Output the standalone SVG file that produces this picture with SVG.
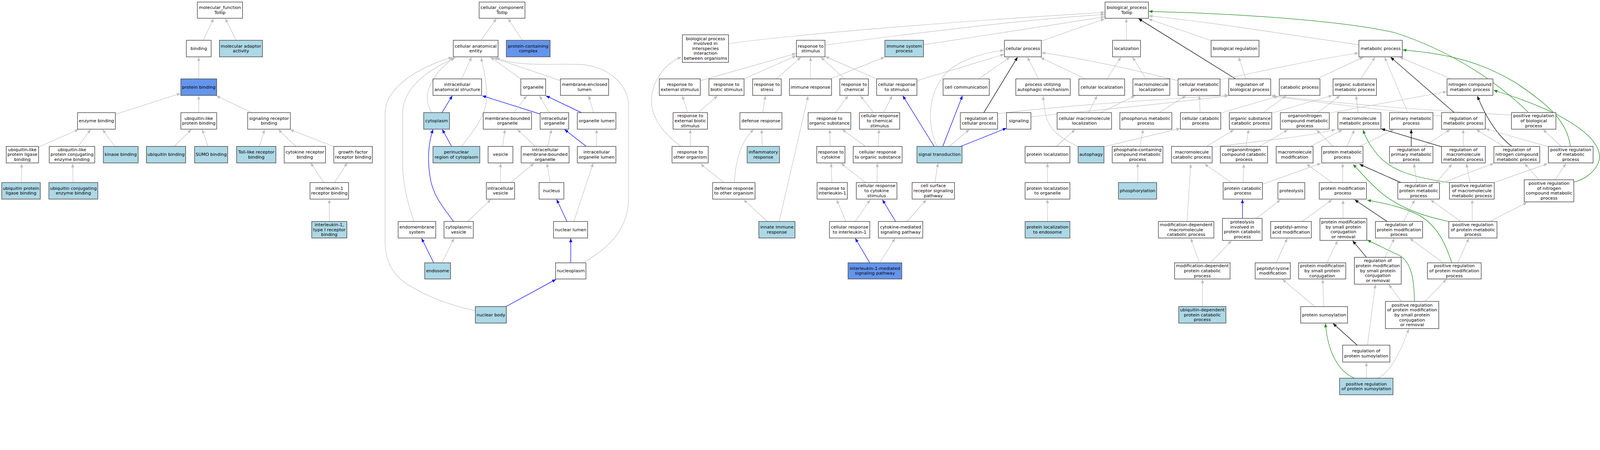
<svg xmlns="http://www.w3.org/2000/svg" width="4645" height="1152" viewBox="0 0 4645 1152" preserveAspectRatio="xMinYMin meet">
<style>
:root{width:100vw;height:100vh}
.e{fill:none;stroke:#bebebe;stroke-width:1.3;marker-end:url(#ag)}
.p{fill:none;stroke:#0000ff;stroke-width:1.4;marker-end:url(#ab)}
.r{fill:none;stroke:#000;stroke-width:1.4;marker-end:url(#ak)}
.g{fill:none;stroke:#228b22;stroke-width:1.4;marker-end:url(#agr)}
.n rect{stroke:#4d4d4d;stroke-width:1.7;fill:#fff}
.lb rect{fill:#add8e6}
.cb rect{fill:#6495ed}
text{font-family:"DejaVu Sans","Liberation Sans",sans-serif;font-size:12.8px;text-anchor:middle;fill:#000}
</style>
<defs>
<marker id="ag" markerUnits="userSpaceOnUse" markerWidth="11" markerHeight="9" viewBox="0 0 11 9" refX="11" refY="4.5" orient="auto"><path d="M0,0L11,4.5L0,9z" fill="#bebebe"/></marker>
<marker id="ab" markerUnits="userSpaceOnUse" markerWidth="11" markerHeight="9" viewBox="0 0 11 9" refX="11" refY="4.5" orient="auto"><path d="M0,0L11,4.5L0,9z" fill="#0000ff"/></marker>
<marker id="ak" markerUnits="userSpaceOnUse" markerWidth="11" markerHeight="9" viewBox="0 0 11 9" refX="11" refY="4.5" orient="auto"><path d="M0,0L11,4.5L0,9z" fill="#000"/></marker>
<marker id="agr" markerUnits="userSpaceOnUse" markerWidth="11" markerHeight="9" viewBox="0 0 11 9" refX="11" refY="4.5" orient="auto"><path d="M0,0L11,4.5L0,9z" fill="#228b22"/></marker>
</defs>
<rect width="4645" height="1152" fill="#fff"/>
<g id="edges">
<path class="e" d="M590,117L620,54"/>
<path class="e" d="M686,117L654,54"/>
<path class="e" d="M577,229L577,166"/>
<path class="e" d="M335,332L524,271"/>
<path class="e" d="M577,327L577,278"/>
<path class="e" d="M731,327L628,278"/>
<path class="e" d="M112,427L228,376"/>
<path class="e" d="M227,425L263,376"/>
<path class="e" d="M333,425L298,376"/>
<path class="e" d="M506,425L555,376"/>
<path class="e" d="M604,425L587,376"/>
<path class="e" d="M753,425L768,376"/>
<path class="e" d="M859,425L808,376"/>
<path class="e" d="M968,425L842,376"/>
<path class="e" d="M62,531L63,475"/>
<path class="e" d="M212,531L211,475"/>
<path class="e" d="M940,530L902,473"/>
<path class="e" d="M971,530L1008,473"/>
<path class="e" d="M956,643L956,579"/>
<path class="e" d="M1397,117L1441,54"/>
<path class="e" d="M1516,117L1475,54"/>
<path class="e" d="M1340,229L1369,166"/>
<path class="e" d="M1512,229L1424,166"/>
<path class="e" d="M1627,234L1433,168"/>
<path class="e" d="M1692,763C1760,725 1825,670 1825,573L1825,310C1825,240 1760,190 1680,187C1600,184 1500,195 1440,167"/>
<path class="e" d="M1254,327C1228,290 1235,230 1318,167"/>
<path class="e" d="M1340,425C1380,375 1413,330 1413,280C1413,230 1400,185 1397,167"/>
<path class="e" d="M1202,643C1180,580 1169,530 1169,470L1169,330C1169,250 1250,200 1322,167"/>
<path class="e" d="M1379,902C1300,885 1240,860 1190,830C1140,800 1118,760 1118,700L1118,330C1118,260 1200,200 1313,166"/>
<path class="p" d="M1283,327L1313,278"/>
<path class="p" d="M1568,331L1400,278"/>
<path class="e" d="M1492,327L1529,278"/>
<path class="e" d="M1595,327L1566,278"/>
<path class="p" d="M1688,327L1585,278"/>
<path class="e" d="M1723,327L1709,278"/>
<path class="p" d="M1311,425L1284,376"/>
<path class="e" d="M1459,425L1466,376"/>
<path class="e" d="M1554,425L1502,376"/>
<path class="e" d="M1590,425L1601,376"/>
<path class="p" d="M1702,425L1639,376"/>
<path class="e" d="M1732,425L1732,376"/>
<path class="e" d="M1453,530L1453,474"/>
<path class="e" d="M1483,530L1550,474"/>
<path class="e" d="M1597,530L1588,474"/>
<path class="e" d="M1358,643L1425,579"/>
<path class="p" d="M1317,643C1280,595 1254,560 1248,510C1240,460 1245,410 1257,376"/>
<path class="p" d="M1646,643L1616,579"/>
<path class="e" d="M1666,643L1722,474"/>
<path class="p" d="M1259,763L1224,692"/>
<path class="e" d="M1283,763L1318,692"/>
<path class="p" d="M1657,763L1657,692"/>
<path class="p" d="M1469,890L1614,811"/>
<path class="e" d="M2115,127C2300,100 2800,60 3207,36"/>
<path class="e" d="M2395,131C2700,90 3000,55 3207,42"/>
<path class="e" d="M2681,130L3207,49"/>
<path class="e" d="M3023,119L3207,55"/>
<path class="e" d="M3270,117L3270,54"/>
<path class="e" d="M3514,117L3334,55"/>
<path class="e" d="M3945,130C3700,95 3500,62 3335,46"/>
<path class="r" d="M3587,229L3305,54"/>
<path class="g" d="M4436,325C4380,270 4250,160 4050,95C3900,60 3600,40 3335,33"/>
<path class="e" d="M3617,229L3596,166"/>
<path class="e" d="M4388,334C4100,318 3880,300 3691,277"/>
<path class="e" d="M4185,337C4000,318 3850,300 3691,279"/>
<path class="e" d="M1996,325L1981,278"/>
<path class="e" d="M2029,325L2083,278"/>
<path class="e" d="M2214,327L2222,278"/>
<path class="e" d="M2426,327L2462,278"/>
<path class="e" d="M2534,325L2498,278"/>
<path class="e" d="M2566,325L2590,278"/>
<path class="r" d="M2856,327L2954,166"/>
<path class="e" d="M2896,330C3100,305 3350,290 3566,276"/>
<path class="e" d="M2993,339C3200,318 3400,300 3566,278"/>
<path class="e" d="M2756,425L2814,376"/>
<path class="p" d="M2712,425L2621,278"/>
<path class="p" d="M2737,425L2794,278"/>
<path class="p" d="M2789,425L2922,372"/>
<path class="e" d="M2720,425C2690,360 2690,260 2760,200C2800,170 2860,152 2915,146"/>
<path class="e" d="M2662,234L2915,158"/>
<path class="e" d="M2545,229L2396,164"/>
<path class="e" d="M2452,229L2383,166"/>
<path class="e" d="M2353,229L2353,166"/>
<path class="e" d="M2411,229L2568,166"/>
<path class="e" d="M2254,229L2325,166"/>
<path class="e" d="M2160,229L2311,162"/>
<path class="e" d="M2034,234L2311,155"/>
<path class="e" d="M2004,425L2004,376"/>
<path class="e" d="M1977,425C1930,390 1885,340 1892,279C1900,220 1940,180 1978,166"/>
<path class="e" d="M2102,530L2034,476"/>
<path class="e" d="M2132,530C2135,470 2150,410 2188,376"/>
<path class="e" d="M2213,425L2211,376"/>
<path class="e" d="M2228,643L2159,580"/>
<path class="e" d="M2262,643L2346,279"/>
<path class="e" d="M2410,425L2409,376"/>
<path class="e" d="M2513,425L2445,376"/>
<path class="e" d="M2549,425L2552,376"/>
<path class="e" d="M2415,530L2413,474"/>
<path class="e" d="M2513,530L2442,474"/>
<path class="e" d="M2546,530L2547,474"/>
<path class="e" d="M2714,530L2723,474"/>
<path class="e" d="M2456,643L2429,580"/>
<path class="e" d="M2483,643L2526,580"/>
<path class="p" d="M2600,643L2562,580"/>
<path class="e" d="M2633,643L2689,580"/>
<path class="p" d="M2525,763L2483,692"/>
<path class="e" d="M2554,763L2598,692"/>
<path class="e" d="M3015,229L2983,166"/>
<path class="e" d="M3130,426C3080,400 3045,380 3035,330C3030,300 3029,290 3029,279"/>
<path class="e" d="M2841,229L2932,166"/>
<path class="e" d="M3151,229L3021,167"/>
<path class="e" d="M3420,234C3300,205 3150,170 3024,153"/>
<path class="e" d="M3542,231C3650,210 3800,175 3944,154"/>
<path class="e" d="M3067,425L3121,376"/>
<path class="e" d="M3041,530L3041,474"/>
<path class="e" d="M3041,643L3041,579"/>
<path class="e" d="M3160,327L3185,278"/>
<path class="e" d="M3195,327L3295,278"/>
<path class="e" d="M3327,229L3288,166"/>
<path class="e" d="M3214,229L3254,166"/>
<path class="e" d="M3205,426L3426,373"/>
<path class="e" d="M3365,327L3443,278"/>
<path class="e" d="M3484,327L3482,278"/>
<path class="e" d="M3545,328L3711,279"/>
<path class="e" d="M3667,327L3734,278"/>
<path class="e" d="M3693,328L3868,277"/>
<path class="e" d="M3309,425L3319,376"/>
<path class="e" d="M3303,530L3303,474"/>
<path class="e" d="M3503,425L3582,377"/>
<path class="e" d="M3519,427C3700,405 3800,395 3877,376"/>
<path class="e" d="M3617,425L3625,376"/>
<path class="e" d="M3657,425L3738,377"/>
<path class="e" d="M3575,530L3497,476"/>
<path class="e" d="M3609,530L3611,476"/>
<path class="e" d="M3665,535L3835,474"/>
<path class="p" d="M3607,634L3607,579"/>
<path class="e" d="M3648,634L3717,580"/>
<path class="e" d="M3446,643L3457,476"/>
<path class="e" d="M3482,763L3457,692"/>
<path class="e" d="M3514,763L3575,699"/>
<path class="e" d="M3491,890L3491,811"/>
<path class="e" d="M3705,763L3737,692"/>
<path class="e" d="M3780,643L3867,580"/>
<path class="e" d="M3867,530L3793,476"/>
<path class="e" d="M3898,530L3898,474"/>
<path class="e" d="M3805,425L3897,377"/>
<path class="e" d="M3910,425L3932,377"/>
<path class="e" d="M3870,425L3822,377"/>
<path class="e" d="M3947,425L4047,376"/>
<path class="e" d="M3943,327L3937,278"/>
<path class="e" d="M4087,327L4020,166"/>
<path class="e" d="M3825,327L3890,278"/>
<path class="e" d="M3860,328L4200,266"/>
<path class="e" d="M3823,229L3958,166"/>
<path class="e" d="M3950,229L3992,166"/>
<path class="e" d="M4213,229L4063,166"/>
<path class="r" d="M4222,327L4037,166"/>
<path class="r" d="M4097,425L4097,376"/>
<path class="e" d="M4133,425L4210,376"/>
<path class="e" d="M4248,425L4248,376"/>
<path class="r" d="M4185,426L4010,374"/>
<path class="e" d="M4365,425L4286,376"/>
<path class="r" d="M4389,425Q4330,380 4289,279"/>
<path class="e" d="M4495,426L4313,374"/>
<path class="e" d="M4532,425L4480,376"/>
<path class="g" d="M4559,425C4550,350 4490,300 4400,240C4300,180 4200,155 4072,145"/>
<path class="e" d="M4468,522L4426,475"/>
<path class="e" d="M4515,522L4546,475"/>
<path class="g" d="M4569,529C4615,517 4648,480 4643,448C4636,400 4560,330 4336,262"/>
<path class="e" d="M4268,530L4257,475"/>
<path class="e" d="M4338,530L4493,475"/>
<path class="g" d="M4208,530C4100,515 4040,495 4000,450C3975,420 3965,400 3957,377"/>
<path class="e" d="M4274,643L4274,580"/>
<path class="e" d="M4325,643L4433,588"/>
<path class="e" d="M4241,643L4153,580"/>
<path class="g" d="M4206,643C4120,625 4060,600 4010,560C3975,530 3950,500 3928,477"/>
<path class="r" d="M4067,530L3947,477"/>
<path class="e" d="M4113,530L4105,475"/>
<path class="e" d="M4170,530L4215,476"/>
<path class="e" d="M4175,535L4337,474"/>
<path class="e" d="M4075,643L4107,580"/>
<path class="r" d="M4027,643L3933,580"/>
<path class="e" d="M4190,763L4093,692"/>
<path class="e" d="M4232,763L4264,692"/>
<path class="g" d="M4215,763C4200,720 4180,660 4120,625C4070,600 4020,590 3969,581"/>
<path class="e" d="M4068,875L4032,826"/>
<path class="e" d="M4137,875L4199,811"/>
<path class="g" d="M4106,875C4106,820 4100,760 4060,740C4030,728 4000,710 3969,697"/>
<path class="r" d="M3967,747L3927,699"/>
<path class="e" d="M4021,747L4048,692"/>
<path class="e" d="M3899,634L3899,581"/>
<path class="e" d="M3852,763L3883,699"/>
<path class="e" d="M3843,890L3840,811"/>
<path class="e" d="M3817,890L3723,811"/>
<path class="r" d="M3940,1002L3870,939"/>
<path class="e" d="M3970,1002L3993,826"/>
<path class="e" d="M3967,1098L3967,1052"/>
<path class="g" d="M3932,1098C3890,1080 3855,1030 3848,939"/>
<path class="e" d="M4000,1098C4040,1080 4070,1010 4090,955"/>
</g>
<g id="mf"><g id="n_mf" class="n"><rect x="573" y="6" width="131" height="47"/><text><tspan x="638.5" y="26.4">molecular_function</tspan><tspan x="638.5" y="40.7">Tollip</tspan></text></g>
<g id="n_binding" class="n"><rect x="541" y="117" width="72" height="48"/><text><tspan x="577" y="145">binding</tspan></text></g>
<g id="n_mol_adaptor" class="n lb"><rect x="637" y="117" width="125" height="48"/><text><tspan x="699.5" y="137.9">molecular adaptor</tspan><tspan x="699.5" y="152.2">activity</tspan></text></g>
<g id="n_protein_binding" class="n cb"><rect x="525" y="229" width="104" height="48"/><text><tspan x="577" y="257">protein binding</tspan></text></g>
<g id="n_enzyme_binding" class="n"><rect x="225" y="327" width="110" height="48"/><text><tspan x="280" y="355">enzyme binding</tspan></text></g>
<g id="n_ubl_binding" class="n"><rect x="525" y="327" width="104" height="48"/><text><tspan x="577" y="347.9">ubiquitin-like</tspan><tspan x="577" y="362.2">protein binding</tspan></text></g>
<g id="n_srb" class="n"><rect x="719" y="327" width="124" height="48"/><text><tspan x="781" y="347.9">signaling receptor</tspan><tspan x="781" y="362.2">binding</tspan></text></g>
<g id="n_ubl_ligase" class="n"><rect x="18" y="425" width="94" height="48"/><text><tspan x="65" y="438.7">ubiquitin-like</tspan><tspan x="65" y="453">protein ligase</tspan><tspan x="65" y="467.3">binding</tspan></text></g>
<g id="n_ubl_conj" class="n"><rect x="143" y="425" width="132" height="48"/><text><tspan x="209" y="438.7">ubiquitin-like</tspan><tspan x="209" y="453">protein conjugating</tspan><tspan x="209" y="467.3">enzyme binding</tspan></text></g>
<g id="n_kinase" class="n lb"><rect x="300" y="425" width="101" height="48"/><text><tspan x="350.5" y="453">kinase binding</tspan></text></g>
<g id="n_ubq_binding" class="n lb"><rect x="425" y="425" width="114" height="48"/><text><tspan x="482" y="453">ubiquitin binding</tspan></text></g>
<g id="n_sumo" class="n lb"><rect x="565" y="425" width="96" height="48"/><text><tspan x="613" y="453">SUMO binding</tspan></text></g>
<g id="n_tlr" class="n lb"><rect x="687" y="425" width="114" height="48"/><text><tspan x="744" y="445.9">Toll-like receptor</tspan><tspan x="744" y="460.2">binding</tspan></text></g>
<g id="n_crb" class="n"><rect x="825" y="425" width="120" height="48"/><text><tspan x="885" y="445.9">cytokine receptor</tspan><tspan x="885" y="460.2">binding</tspan></text></g>
<g id="n_gfrb" class="n"><rect x="969" y="425" width="112" height="48"/><text><tspan x="1025" y="445.9">growth factor</tspan><tspan x="1025" y="460.2">receptor binding</tspan></text></g>
<g id="n_il1rb" class="n"><rect x="900" y="530" width="112" height="48"/><text><tspan x="956" y="550.9">interleukin-1</tspan><tspan x="956" y="565.2">receptor binding</tspan></text></g>
<g id="n_il1r1b" class="n lb"><rect x="905" y="643" width="102" height="48"/><text><tspan x="956" y="656.7">interleukin-1,</tspan><tspan x="956" y="671">type I receptor</tspan><tspan x="956" y="685.3">binding</tspan></text></g>
<g id="n_upl" class="n lb"><rect x="5" y="530" width="112" height="48"/><text><tspan x="61" y="550.9">ubiquitin protein</tspan><tspan x="61" y="565.2">ligase binding</tspan></text></g>
<g id="n_uce" class="n lb"><rect x="142" y="530" width="142" height="48"/><text><tspan x="213" y="550.9">ubiquitin conjugating</tspan><tspan x="213" y="565.2">enzyme binding</tspan></text></g>
</g>
<g id="cc"><g id="n_cc" class="n"><rect x="1391" y="6" width="133" height="47"/><text><tspan x="1457.5" y="26.4">cellular_component</tspan><tspan x="1457.5" y="40.7">Tollip</tspan></text></g>
<g id="n_cae" class="n"><rect x="1316" y="117" width="130" height="48"/><text><tspan x="1381" y="137.9">cellular anatomical</tspan><tspan x="1381" y="152.2">entity</tspan></text></g>
<g id="n_pcc" class="n cb"><rect x="1470" y="117" width="127" height="48"/><text><tspan x="1533.5" y="137.9">protein-containing</tspan><tspan x="1533.5" y="152.2">complex</tspan></text></g>
<g id="n_ias" class="n"><rect x="1257" y="229" width="141" height="48"/><text><tspan x="1327.5" y="249.9">intracellular</tspan><tspan x="1327.5" y="264.2">anatomical structure</tspan></text></g>
<g id="n_organelle" class="n"><rect x="1512" y="229" width="72" height="48"/><text><tspan x="1548" y="257">organelle</tspan></text></g>
<g id="n_mel" class="n"><rect x="1627" y="229" width="140" height="48"/><text><tspan x="1697" y="249.9">membrane-enclosed</tspan><tspan x="1697" y="264.2">lumen</tspan></text></g>
<g id="n_cytoplasm" class="n lb"><rect x="1230" y="327" width="75" height="48"/><text><tspan x="1267.5" y="355">cytoplasm</tspan></text></g>
<g id="n_mbo" class="n"><rect x="1403" y="327" width="140" height="48"/><text><tspan x="1473" y="347.9">membrane-bounded</tspan><tspan x="1473" y="362.2">organelle</tspan></text></g>
<g id="n_io" class="n"><rect x="1568" y="327" width="83" height="48"/><text><tspan x="1609.5" y="347.9">intracellular</tspan><tspan x="1609.5" y="362.2">organelle</tspan></text></g>
<g id="n_ol" class="n"><rect x="1676" y="327" width="112" height="48"/><text><tspan x="1732" y="355">organelle lumen</tspan></text></g>
<g id="n_prc" class="n lb"><rect x="1257" y="425" width="136" height="48"/><text><tspan x="1325" y="445.9">perinuclear</tspan><tspan x="1325" y="460.2">region of cytoplasm</tspan></text></g>
<g id="n_vesicle" class="n"><rect x="1417" y="425" width="72" height="48"/><text><tspan x="1453" y="453">vesicle</tspan></text></g>
<g id="n_imbo" class="n"><rect x="1513" y="425" width="139" height="48"/><text><tspan x="1582.5" y="438.7">intracellular</tspan><tspan x="1582.5" y="453">membrane-bounded</tspan><tspan x="1582.5" y="467.3">organelle</tspan></text></g>
<g id="n_iol" class="n"><rect x="1676" y="425" width="112" height="48"/><text><tspan x="1732" y="445.9">intracellular</tspan><tspan x="1732" y="460.2">organelle lumen</tspan></text></g>
<g id="n_iv" class="n"><rect x="1412" y="530" width="82" height="48"/><text><tspan x="1453" y="550.9">intracellular</tspan><tspan x="1453" y="565.2">vesicle</tspan></text></g>
<g id="n_nucleus" class="n"><rect x="1565" y="530" width="72" height="48"/><text><tspan x="1601" y="558">nucleus</tspan></text></g>
<g id="n_ems" class="n"><rect x="1156" y="643" width="109" height="48"/><text><tspan x="1210.5" y="663.9">endomembrane</tspan><tspan x="1210.5" y="678.2">system</tspan></text></g>
<g id="n_cv" class="n"><rect x="1289" y="643" width="85" height="48"/><text><tspan x="1331.5" y="663.9">cytoplasmic</tspan><tspan x="1331.5" y="678.2">vesicle</tspan></text></g>
<g id="n_nl" class="n"><rect x="1607" y="643" width="99" height="48"/><text><tspan x="1656.5" y="671">nuclear lumen</tspan></text></g>
<g id="n_endosome" class="n lb"><rect x="1233" y="763" width="75" height="47"/><text><tspan x="1270.5" y="790.5">endosome</tspan></text></g>
<g id="n_nucleoplasm" class="n"><rect x="1613" y="763" width="88" height="47"/><text><tspan x="1657" y="790.5">nucleoplasm</tspan></text></g>
<g id="n_nb" class="n lb"><rect x="1380" y="890" width="90" height="48"/><text><tspan x="1425" y="918">nuclear body</tspan></text></g>
</g>
<g id="bpnodes">
<g id="n_bp" class="n"><rect x="3208" y="6" width="126" height="47"/><text><tspan x="3271" y="26.4">biological_process</tspan><tspan x="3271" y="40.7">Tollip</tspan></text></g>
<g id="n_bpii" class="n"><rect x="1981" y="101" width="134" height="80"/><text><tspan x="2048" y="116.4">biological process</tspan><tspan x="2048" y="130.7">involved in</tspan><tspan x="2048" y="145">interspecies</tspan><tspan x="2048" y="159.3">interaction</tspan><tspan x="2048" y="173.6">between organisms</tspan></text></g>
<g id="n_rs" class="n"><rect x="2312" y="117" width="83" height="48"/><text><tspan x="2353.5" y="137.9">response to</tspan><tspan x="2353.5" y="152.2">stimulus</tspan></text></g>
<g id="n_isp" class="n lb"><rect x="2569" y="117" width="112" height="48"/><text><tspan x="2625" y="137.9">immune system</tspan><tspan x="2625" y="152.2">process</tspan></text></g>
<g id="n_cp" class="n"><rect x="2916" y="117" width="107" height="48"/><text><tspan x="2969.5" y="145">cellular process</tspan></text></g>
<g id="n_loc" class="n"><rect x="3230" y="117" width="81" height="48"/><text><tspan x="3270.5" y="145">localization</tspan></text></g>
<g id="n_breg" class="n"><rect x="3516" y="117" width="139" height="48"/><text><tspan x="3585.5" y="145">biological regulation</tspan></text></g>
<g id="n_mp" class="n"><rect x="3945" y="117" width="126" height="48"/><text><tspan x="4008" y="145">metabolic process</tspan></text></g>
<g id="n_res" class="n"><rect x="1914" y="229" width="119" height="48"/><text><tspan x="1973.5" y="249.9">response to</tspan><tspan x="1973.5" y="264.2">external stimulus</tspan></text></g>
<g id="n_rbs" class="n"><rect x="2058" y="229" width="102" height="48"/><text><tspan x="2109" y="249.9">response to</tspan><tspan x="2109" y="264.2">biotic stimulus</tspan></text></g>
<g id="n_rstress" class="n"><rect x="2185" y="229" width="83" height="48"/><text><tspan x="2226.5" y="249.9">response to</tspan><tspan x="2226.5" y="264.2">stress</tspan></text></g>
<g id="n_ir" class="n"><rect x="2292" y="229" width="122" height="48"/><text><tspan x="2353" y="257">immune response</tspan></text></g>
<g id="n_rchem" class="n"><rect x="2438" y="229" width="83" height="48"/><text><tspan x="2479.5" y="249.9">response to</tspan><tspan x="2479.5" y="264.2">chemical</tspan></text></g>
<g id="n_crs" class="n"><rect x="2545" y="229" width="117" height="48"/><text><tspan x="2603.5" y="249.9">cellular response</tspan><tspan x="2603.5" y="264.2">to stimulus</tspan></text></g>
<g id="n_ccomm" class="n"><rect x="2738" y="229" width="134" height="48"/><text><tspan x="2805" y="257">cell communication</tspan></text></g>
<g id="n_puam" class="n"><rect x="2949" y="229" width="158" height="48"/><text><tspan x="3028" y="249.9">process utilizing</tspan><tspan x="3028" y="264.2">autophagic mechanism</tspan></text></g>
<g id="n_cloc" class="n"><rect x="3132" y="229" width="133" height="48"/><text><tspan x="3198.5" y="257">cellular localization</tspan></text></g>
<g id="n_mloc" class="n"><rect x="3289" y="229" width="107" height="48"/><text><tspan x="3342.5" y="249.9">macromolecule</tspan><tspan x="3342.5" y="264.2">localization</tspan></text></g>
<g id="n_cmp" class="n"><rect x="3420" y="229" width="122" height="48"/><text><tspan x="3481" y="249.9">cellular metabolic</tspan><tspan x="3481" y="264.2">process</tspan></text></g>
<g id="n_rbp" class="n"><rect x="3567" y="229" width="122" height="48"/><text><tspan x="3628" y="249.9">regulation of</tspan><tspan x="3628" y="264.2">biological process</tspan></text></g>
<g id="n_catp" class="n"><rect x="3714" y="229" width="118" height="48"/><text><tspan x="3773" y="257">catabolic process</tspan></text></g>
<g id="n_osmp" class="n"><rect x="3870" y="229" width="126" height="48"/><text><tspan x="3933" y="249.9">organic substance</tspan><tspan x="3933" y="264.2">metabolic process</tspan></text></g>
<g id="n_ncmp" class="n"><rect x="4201" y="229" width="133" height="48"/><text><tspan x="4267.5" y="249.9">nitrogen compound</tspan><tspan x="4267.5" y="264.2">metabolic process</tspan></text></g>
<g id="n_rebs" class="n"><rect x="1954" y="327" width="100" height="48"/><text><tspan x="2004" y="340.7">response to</tspan><tspan x="2004" y="355">external biotic</tspan><tspan x="2004" y="369.3">stimulus</tspan></text></g>
<g id="n_dr" class="n"><rect x="2148" y="327" width="122" height="48"/><text><tspan x="2209" y="355">defense response</tspan></text></g>
<g id="n_ros" class="n"><rect x="2346" y="327" width="124" height="48"/><text><tspan x="2408" y="347.9">response to</tspan><tspan x="2408" y="362.2">organic substance</tspan></text></g>
<g id="n_crcs" class="n"><rect x="2495" y="327" width="117" height="48"/><text><tspan x="2553.5" y="340.7">cellular response</tspan><tspan x="2553.5" y="355">to chemical</tspan><tspan x="2553.5" y="369.3">stimulus</tspan></text></g>
<g id="n_rcp" class="n"><rect x="2788" y="327" width="108" height="48"/><text><tspan x="2842" y="347.9">regulation of</tspan><tspan x="2842" y="362.2">cellular process</tspan></text></g>
<g id="n_signaling" class="n"><rect x="2922" y="327" width="71" height="48"/><text><tspan x="2957.5" y="355">signaling</tspan></text></g>
<g id="n_cmloc" class="n"><rect x="3069" y="327" width="158" height="48"/><text><tspan x="3148" y="347.9">cellular macromolecule</tspan><tspan x="3148" y="362.2">localization</tspan></text></g>
<g id="n_phmp" class="n"><rect x="3251" y="327" width="151" height="48"/><text><tspan x="3326.5" y="347.9">phosphorus metabolic</tspan><tspan x="3326.5" y="362.2">process</tspan></text></g>
<g id="n_ccatp" class="n"><rect x="3427" y="327" width="117" height="48"/><text><tspan x="3485.5" y="347.9">cellular catabolic</tspan><tspan x="3485.5" y="362.2">process</tspan></text></g>
<g id="n_oscp" class="n"><rect x="3569" y="327" width="123" height="48"/><text><tspan x="3630.5" y="347.9">organic substance</tspan><tspan x="3630.5" y="362.2">catabolic process</tspan></text></g>
<g id="n_oncmp" class="n"><rect x="3717" y="327" width="142" height="48"/><text><tspan x="3788" y="340.7">organonitrogen</tspan><tspan x="3788" y="355">compound metabolic</tspan><tspan x="3788" y="369.3">process</tspan></text></g>
<g id="n_mmp" class="n"><rect x="3884" y="327" width="125" height="48"/><text><tspan x="3946.5" y="347.9">macromolecule</tspan><tspan x="3946.5" y="362.2">metabolic process</tspan></text></g>
<g id="n_pmp" class="n"><rect x="4034" y="327" width="126" height="48"/><text><tspan x="4097" y="347.9">primary metabolic</tspan><tspan x="4097" y="362.2">process</tspan></text></g>
<g id="n_rmp" class="n"><rect x="4185" y="327" width="127" height="48"/><text><tspan x="4248.5" y="347.9">regulation of</tspan><tspan x="4248.5" y="362.2">metabolic process</tspan></text></g>
<g id="n_prbp" class="n"><rect x="4388" y="327" width="129" height="48"/><text><tspan x="4452.5" y="340.7">positive regulation</tspan><tspan x="4452.5" y="355">of biological</tspan><tspan x="4452.5" y="369.3">process</tspan></text></g>
<g id="n_roo" class="n"><rect x="1951" y="425" width="105" height="48"/><text><tspan x="2003.5" y="445.9">response to</tspan><tspan x="2003.5" y="460.2">other organism</tspan></text></g>
<g id="n_infl" class="n lb"><rect x="2169" y="425" width="94" height="48"/><text><tspan x="2216" y="445.9">inflammatory</tspan><tspan x="2216" y="460.2">response</tspan></text></g>
<g id="n_rcyt" class="n"><rect x="2371" y="425" width="82" height="48"/><text><tspan x="2412" y="445.9">response to</tspan><tspan x="2412" y="460.2">cytokine</tspan></text></g>
<g id="n_croas" class="n"><rect x="2477" y="425" width="142" height="48"/><text><tspan x="2548" y="445.9">cellular response</tspan><tspan x="2548" y="460.2">to organic substance</tspan></text></g>
<g id="n_st" class="n lb"><rect x="2662" y="425" width="131" height="48"/><text><tspan x="2727.5" y="453">signal transduction</tspan></text></g>
<g id="n_ploc" class="n"><rect x="2976" y="425" width="130" height="48"/><text><tspan x="3041" y="453">protein localization</tspan></text></g>
<g id="n_autophagy" class="n lb"><rect x="3130" y="425" width="75" height="48"/><text><tspan x="3167.5" y="453">autophagy</tspan></text></g>
<g id="n_pccmp" class="n"><rect x="3229" y="425" width="147" height="48"/><text><tspan x="3302.5" y="438.7">phosphate-containing</tspan><tspan x="3302.5" y="453">compound metabolic</tspan><tspan x="3302.5" y="467.3">process</tspan></text></g>
<g id="n_mcp" class="n"><rect x="3401" y="425" width="118" height="48"/><text><tspan x="3460" y="445.9">macromolecule</tspan><tspan x="3460" y="460.2">catabolic process</tspan></text></g>
<g id="n_onccp" class="n"><rect x="3543" y="425" width="137" height="48"/><text><tspan x="3611.5" y="438.7">organonitrogen</tspan><tspan x="3611.5" y="453">compound catabolic</tspan><tspan x="3611.5" y="467.3">process</tspan></text></g>
<g id="n_mmod" class="n"><rect x="3705" y="425" width="107" height="48"/><text><tspan x="3758.5" y="445.9">macromolecule</tspan><tspan x="3758.5" y="460.2">modification</tspan></text></g>
<g id="n_protmp" class="n"><rect x="3837" y="425" width="120" height="48"/><text><tspan x="3897" y="445.9">protein metabolic</tspan><tspan x="3897" y="460.2">process</tspan></text></g>
<g id="n_rpmp" class="n"><rect x="4034" y="425" width="126" height="48"/><text><tspan x="4097" y="438.7">regulation of</tspan><tspan x="4097" y="453">primary metabolic</tspan><tspan x="4097" y="467.3">process</tspan></text></g>
<g id="n_rmmp" class="n"><rect x="4185" y="425" width="127" height="48"/><text><tspan x="4248.5" y="438.7">regulation of</tspan><tspan x="4248.5" y="453">macromolecule</tspan><tspan x="4248.5" y="467.3">metabolic process</tspan></text></g>
<g id="n_rncmp" class="n"><rect x="4337" y="425" width="133" height="48"/><text><tspan x="4403.5" y="438.7">regulation of</tspan><tspan x="4403.5" y="453">nitrogen compound</tspan><tspan x="4403.5" y="467.3">metabolic process</tspan></text></g>
<g id="n_prmp" class="n"><rect x="4495" y="425" width="130" height="48"/><text><tspan x="4560" y="438.7">positive regulation</tspan><tspan x="4560" y="453">of metabolic</tspan><tspan x="4560" y="467.3">process</tspan></text></g>
<g id="n_drtoo" class="n"><rect x="2069" y="530" width="123" height="48"/><text><tspan x="2130.5" y="550.9">defense response</tspan><tspan x="2130.5" y="565.2">to other organism</tspan></text></g>
<g id="n_ril1" class="n"><rect x="2372" y="530" width="88" height="48"/><text><tspan x="2416" y="550.9">response to</tspan><tspan x="2416" y="565.2">interleukin-1</tspan></text></g>
<g id="n_crcyt" class="n"><rect x="2486" y="530" width="118" height="48"/><text><tspan x="2545" y="543.7">cellular response</tspan><tspan x="2545" y="558">to cytokine</tspan><tspan x="2545" y="572.3">stimulus</tspan></text></g>
<g id="n_csrsp" class="n"><rect x="2648" y="530" width="123" height="48"/><text><tspan x="2709.5" y="543.7">cell surface</tspan><tspan x="2709.5" y="558">receptor signaling</tspan><tspan x="2709.5" y="572.3">pathway</tspan></text></g>
<g id="n_plo" class="n"><rect x="2976" y="530" width="130" height="48"/><text><tspan x="3041" y="550.9">protein localization</tspan><tspan x="3041" y="565.2">to organelle</tspan></text></g>
<g id="n_phos" class="n lb"><rect x="3247" y="530" width="111" height="48"/><text><tspan x="3302.5" y="558">phosphorylation</tspan></text></g>
<g id="n_pcp" class="n"><rect x="3551" y="530" width="114" height="48"/><text><tspan x="3608" y="550.9">protein catabolic</tspan><tspan x="3608" y="565.2">process</tspan></text></g>
<g id="n_proteolysis" class="n"><rect x="3710" y="530" width="78" height="48"/><text><tspan x="3749" y="558">proteolysis</tspan></text></g>
<g id="n_pmod" class="n"><rect x="3830" y="530" width="137" height="48"/><text><tspan x="3898.5" y="550.9">protein modification</tspan><tspan x="3898.5" y="565.2">process</tspan></text></g>
<g id="n_rprotmp" class="n"><rect x="4058" y="530" width="121" height="48"/><text><tspan x="4118.5" y="543.7">regulation of</tspan><tspan x="4118.5" y="558">protein metabolic</tspan><tspan x="4118.5" y="572.3">process</tspan></text></g>
<g id="n_prmmp" class="n"><rect x="4208" y="530" width="130" height="48"/><text><tspan x="4273" y="543.7">positive regulation</tspan><tspan x="4273" y="558">of macromolecule</tspan><tspan x="4273" y="572.3">metabolic process</tspan></text></g>
<g id="n_prncmp" class="n"><rect x="4425" y="522" width="144" height="64"/><text><tspan x="4497" y="536.6">positive regulation</tspan><tspan x="4497" y="550.9">of nitrogen</tspan><tspan x="4497" y="565.2">compound metabolic</tspan><tspan x="4497" y="579.5">process</tspan></text></g>
<g id="n_iir" class="n lb"><rect x="2203" y="643" width="105" height="48"/><text><tspan x="2255.5" y="663.9">innate immune</tspan><tspan x="2255.5" y="678.2">response</tspan></text></g>
<g id="n_cril1" class="n"><rect x="2408" y="643" width="117" height="48"/><text><tspan x="2466.5" y="663.9">cellular response</tspan><tspan x="2466.5" y="678.2">to interleukin-1</tspan></text></g>
<g id="n_cmsp" class="n"><rect x="2550" y="643" width="129" height="48"/><text><tspan x="2614.5" y="663.9">cytokine-mediated</tspan><tspan x="2614.5" y="678.2">signaling pathway</tspan></text></g>
<g id="n_ple" class="n lb"><rect x="2976" y="643" width="130" height="48"/><text><tspan x="3041" y="663.9">protein localization</tspan><tspan x="3041" y="678.2">to endosome</tspan></text></g>
<g id="n_mdmcp" class="n"><rect x="3363" y="643" width="161" height="48"/><text><tspan x="3443.5" y="656.7">modification-dependent</tspan><tspan x="3443.5" y="671">macromolecule</tspan><tspan x="3443.5" y="685.3">catabolic process</tspan></text></g>
<g id="n_pipcp" class="n"><rect x="3549" y="634" width="115" height="64"/><text><tspan x="3606.5" y="648.6">proteolysis</tspan><tspan x="3606.5" y="662.9">involved in</tspan><tspan x="3606.5" y="677.2">protein catabolic</tspan><tspan x="3606.5" y="691.5">process</tspan></text></g>
<g id="n_paam" class="n"><rect x="3689" y="643" width="118" height="48"/><text><tspan x="3748" y="663.9">peptidyl-amino</tspan><tspan x="3748" y="678.2">acid modification</tspan></text></g>
<g id="n_pmsp" class="n"><rect x="3832" y="634" width="136" height="64"/><text><tspan x="3900" y="648.6">protein modification</tspan><tspan x="3900" y="662.9">by small protein</tspan><tspan x="3900" y="677.2">conjugation</tspan><tspan x="3900" y="691.5">or removal</tspan></text></g>
<g id="n_rpmodp" class="n"><rect x="3993" y="643" width="137" height="48"/><text><tspan x="4061.5" y="656.7">regulation of</tspan><tspan x="4061.5" y="671">protein modification</tspan><tspan x="4061.5" y="685.3">process</tspan></text></g>
<g id="n_prprotmp" class="n"><rect x="4206" y="643" width="140" height="48"/><text><tspan x="4276" y="656.7">positive regulation</tspan><tspan x="4276" y="671">of protein metabolic</tspan><tspan x="4276" y="685.3">process</tspan></text></g>
<g id="n_il1sp" class="n cb"><rect x="2462" y="763" width="156" height="47"/><text><tspan x="2540" y="783.4">interleukin-1-mediated</tspan><tspan x="2540" y="797.7">signaling pathway</tspan></text></g>
<g id="n_mdpcp" class="n"><rect x="3410" y="763" width="161" height="47"/><text><tspan x="3490.5" y="776.2">modification-dependent</tspan><tspan x="3490.5" y="790.5">protein catabolic</tspan><tspan x="3490.5" y="804.8">process</tspan></text></g>
<g id="n_plm" class="n"><rect x="3644" y="763" width="102" height="47"/><text><tspan x="3695" y="783.4">peptidyl-lysine</tspan><tspan x="3695" y="797.7">modification</tspan></text></g>
<g id="n_pmspc" class="n"><rect x="3770" y="763" width="137" height="47"/><text><tspan x="3838.5" y="776.2">protein modification</tspan><tspan x="3838.5" y="790.5">by small protein</tspan><tspan x="3838.5" y="804.8">conjugation</tspan></text></g>
<g id="n_rpmsp" class="n"><rect x="3932" y="747" width="136" height="78"/><text><tspan x="4000" y="761.4">regulation of</tspan><tspan x="4000" y="775.7">protein modification</tspan><tspan x="4000" y="790">by small protein</tspan><tspan x="4000" y="804.3">conjugation</tspan><tspan x="4000" y="818.6">or removal</tspan></text></g>
<g id="n_prpmodp" class="n"><rect x="4144" y="763" width="156" height="47"/><text><tspan x="4222" y="776.2">positive regulation</tspan><tspan x="4222" y="790.5">of protein modification</tspan><tspan x="4222" y="804.8">process</tspan></text></g>
<g id="n_udpcp" class="n lb"><rect x="3422" y="890" width="137" height="48"/><text><tspan x="3490.5" y="903.7">ubiquitin-dependent</tspan><tspan x="3490.5" y="918">protein catabolic</tspan><tspan x="3490.5" y="932.3">process</tspan></text></g>
<g id="n_psumo" class="n"><rect x="3776" y="890" width="136" height="48"/><text><tspan x="3844" y="918">protein sumoylation</tspan></text></g>
<g id="n_prpmsp" class="n"><rect x="4022" y="875" width="155" height="79"/><text><tspan x="4099.5" y="889.9">positive regulation</tspan><tspan x="4099.5" y="904.2">of protein modification</tspan><tspan x="4099.5" y="918.5">by small protein</tspan><tspan x="4099.5" y="932.8">conjugation</tspan><tspan x="4099.5" y="947.1">or removal</tspan></text></g>
<g id="n_rpsumo" class="n"><rect x="3898" y="1002" width="137" height="49"/><text><tspan x="3966.5" y="1023.4">regulation of</tspan><tspan x="3966.5" y="1037.7">protein sumoylation</tspan></text></g>
<g id="n_prpsumo" class="n lb"><rect x="3889" y="1098" width="155" height="48"/><text><tspan x="3966.5" y="1118.9">positive regulation</tspan><tspan x="3966.5" y="1133.2">of protein sumoylation</tspan></text></g>
</g>
</svg>
